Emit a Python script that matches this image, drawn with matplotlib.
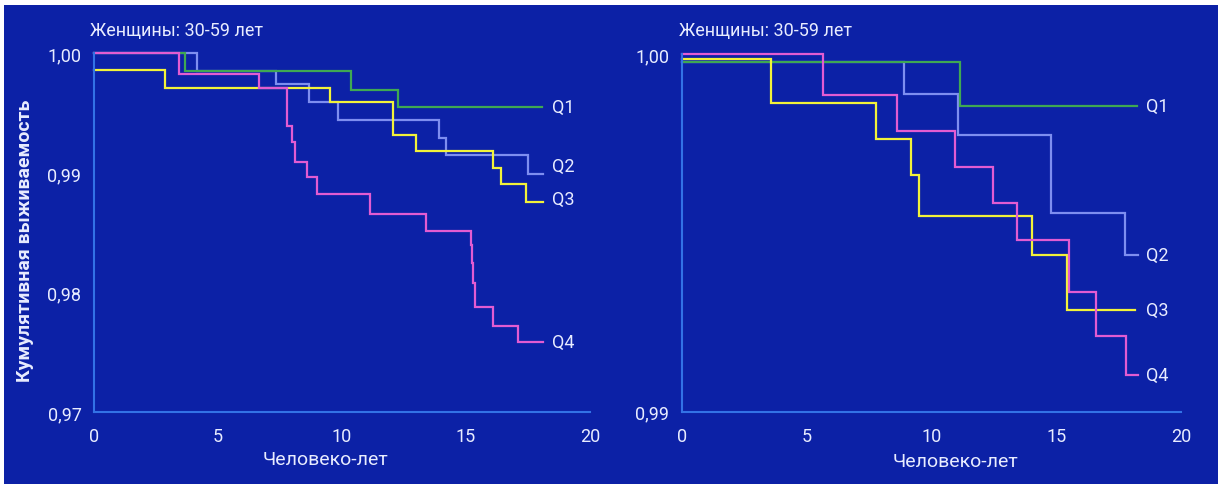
import matplotlib
matplotlib.use("Agg")
import matplotlib.pyplot as plt
from matplotlib import font_manager
from matplotlib.patches import Rectangle

# ---------------- data ----------------
title_text = "Женщины: 30-59 лет"
xlabel_text = "Человеко-лет"
ylabel_text = "Кумулятивная выживаемость"
series_names = ["Q1", "Q2", "Q3", "Q4"]

x_ticks = [0, 5, 10, 15, 20]
x_tick_labels = ["0", "5", "10", "15", "20"]
left_y_ticks = [0.97, 0.98, 0.99, 1.00]
left_y_tick_labels = ["0,97", "0,98", "0,99", "1,00"]
right_y_ticks = [0.99, 1.00]
right_y_tick_labels = ["0,99", "1,00"]

# left panel (step functions: time, survival)
L_q1_t = [0, 3.65, 10.36, 12.27, 18.05]
L_q1_s = [1.0, 0.99855, 0.99696, 0.99554, 0.99554]
L_q2_t = [0, 4.17, 7.34, 8.67, 9.84, 13.9, 14.2, 17.5, 18.1]
L_q2_s = [1.0, 0.99855, 0.99743, 0.9959, 0.9944, 0.9929, 0.9915, 0.9899, 0.9899]
L_q3_t = [0, 2.86, 9.5, 12.06, 13.0, 16.1, 16.4, 17.4, 18.1]
L_q3_s = [0.9986, 0.99707, 0.9959, 0.99319, 0.99186, 0.99042, 0.98903, 0.98758, 0.98758]
L_q4_t = [0, 3.43, 6.65, 7.78, 8.0, 8.1, 8.58, 8.98, 11.13, 13.4, 15.2, 15.25, 15.3, 15.36, 16.1, 17.1, 18.1]
L_q4_s = [1.0, 0.99827, 0.99707, 0.99395, 0.99258, 0.99091, 0.98966, 0.98824, 0.98657, 0.98515,
          0.9840, 0.9825, 0.9808, 0.97879, 0.97722, 0.97589, 0.97589]

# right panel
R_q1_t = [0, 11.14, 18.22]
R_q1_s = [0.99977, 0.99855, 0.99855]
R_q2_t = [0, 8.9, 11.07, 14.78, 17.76, 18.28]
R_q2_s = [0.99977, 0.99888, 0.99774, 0.99555, 0.99438, 0.99438]
R_q3_t = [0, 3.55, 7.76, 9.17, 9.5, 14.02, 15.45, 18.16]
R_q3_s = [0.99986, 0.99862, 0.99762, 0.99661, 0.99548, 0.99439, 0.99285, 0.99285]
R_q4_t = [0, 5.64, 8.6, 10.94, 12.45, 13.41, 15.5, 16.6, 17.8, 18.28]
R_q4_s = [1.0, 0.99885, 0.99784, 0.99683, 0.99583, 0.99481, 0.99335, 0.99211, 0.99103, 0.99103]

# ---------------- style ----------------
names = {f.name for f in font_manager.fontManager.ttflist}
if "Liberation Sans Narrow" in names:
    FAM = ["Liberation Sans Narrow", "DejaVu Sans"]
elif "Roboto" in names:
    FAM = ["Roboto", "DejaVu Sans"]
else:
    FAM = ["DejaVu Sans"]

BG = "#0C21A6"
SPINE = "#3372E6"
TXT = "#E8ECFF"
colors = {"Q1": "#3FA853", "Q2": "#7E8EF0", "Q3": "#F2F23A", "Q4": "#E25CD2"}
LW = 1.6

W, H = 1218, 485
fig = plt.figure(figsize=(W / 100, H / 100), dpi=100, facecolor="white")
fig.patches.append(Rectangle((4 / W, 0), (W - 4) / W, (H - 6) / H, transform=fig.transFigure,
                             facecolor=BG, edgecolor="none", zorder=-10))


def px_axes(x0, x1, ytop, ybot):
    return [x0 / W, (H - ybot) / H, (x1 - x0) / W, (ybot - ytop) / H]


def style_axes(ax, ylim, yticks, yticklabels):
    ax.set_facecolor("none")
    ax.set_xlim(0, 20)
    ax.set_ylim(*ylim)
    for s in ["top", "right"]:
        ax.spines[s].set_visible(False)
    for s in ["left", "bottom"]:
        ax.spines[s].set_color(SPINE)
        ax.spines[s].set_linewidth(1.5)
    ax.set_xticks(x_ticks)
    ax.set_xticklabels(x_tick_labels, family=FAM, fontsize=13, color=TXT)
    ax.set_yticks(yticks)
    ax.set_yticklabels(yticklabels, family=FAM, fontsize=13, color=TXT)
    ax.tick_params(axis="both", length=0)
    ax.tick_params(axis="x", pad=11)
    ax.tick_params(axis="y", pad=9)


def draw(ax, data, label_x, label_dy):
    for name, (t, s) in data:
        ax.step(t, s, where="post", color=colors[name], lw=LW, solid_joinstyle="miter",
                clip_on=False)
    for name, (t, s) in data:
        ax.text(label_x, s[-1] + label_dy.get(name, 0.0), name, color=TXT, family=FAM,
                fontsize=13, va="center", ha="left")


# left
axL = fig.add_axes(px_axes(94, 590, 54.3, 413))
style_axes(axL, (0.97, 1.0), left_y_ticks, left_y_tick_labels)
draw(axL, [("Q2", (L_q2_t, L_q2_s)), ("Q1", (L_q1_t, L_q1_s)),
           ("Q3", (L_q3_t, L_q3_s)), ("Q4", (L_q4_t, L_q4_s))], 18.45,
     {"Q2": 0.0007, "Q3": 0.0002})
axL.set_xlabel(xlabel_text, family=FAM, fontsize=14, color=TXT)
axL.xaxis.set_label_coords((326 - 94) / (590 - 94), -(460 - 413) / (413 - 54.3), transform=axL.transAxes)
axL.xaxis.label.set_va("center")

# right
axR = fig.add_axes(px_axes(682, 1181, 55, 412.7))
style_axes(axR, (0.99, 1.0), right_y_ticks, right_y_tick_labels)
draw(axR, [("Q2", (R_q2_t, R_q2_s)), ("Q1", (R_q1_t, R_q1_s)),
           ("Q3", (R_q3_t, R_q3_s)), ("Q4", (R_q4_t, R_q4_s))], 18.58, {})
axR.set_xlabel(xlabel_text, family=FAM, fontsize=14, color=TXT)
axR.xaxis.set_label_coords((956 - 682) / (1181 - 682), -(462 - 412.7) / (412.7 - 55), transform=axR.transAxes)
axR.xaxis.label.set_va("center")

# titles
fig.text(90 / W, (H - 31) / H, title_text, family=FAM, fontsize=13,
         color=TXT, ha="left", va="center")
fig.text(679 / W, (H - 31) / H, title_text, family=FAM, fontsize=13,
         color=TXT, ha="left", va="center")

# y label
fig.text(25 / W, (H - 241) / H, ylabel_text, family=FAM, fontsize=14,
         fontweight="bold", color=TXT, rotation=90, ha="center", va="center")

fig.savefig("out.png", dpi=100, facecolor="white")
